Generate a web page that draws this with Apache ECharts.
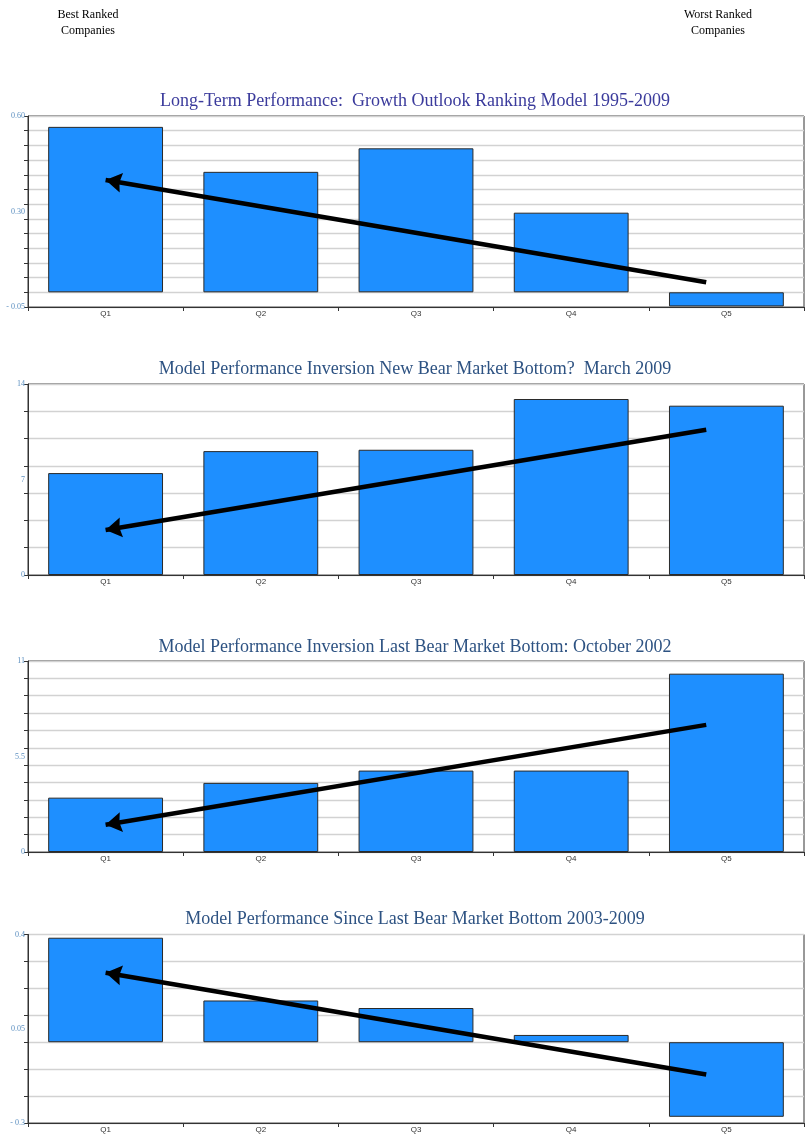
<!DOCTYPE html>
<html>
<head>
<meta charset="utf-8">
<script src="https://cdn.jsdelivr.net/npm/echarts@6/dist/echarts.min.js"></script>
<style>
html,body{margin:0;padding:0;background:#fff;}
#main{width:806px;height:1134px;}
</style>
</head>
<body>
<div id="main"></div>
<script>
// ---- data ----
const categories = ['Q1', 'Q2', 'Q3', 'Q4', 'Q5'];
const titles = [
  'Long-Term Performance:  Growth Outlook Ranking Model 1995-2009',
  'Model Performance Inversion New Bear Market Bottom?  March 2009',
  'Model Performance Inversion Last Bear Market Bottom: October 2002',
  'Model Performance Since Last Bear Market Bottom 2003-2009'
];
const values1 = [0.563, 0.41, 0.49, 0.271, -0.048];
const values2 = [7.47, 9.08, 9.18, 12.9, 12.41];
const values3 = [3.13, 3.98, 4.69, 4.69, 10.27];
const values4 = [0.388, 0.155, 0.127, 0.027, -0.277];
// trend arrows: [tail, head] as [category position (0-5), value]
const arrow1 = [[4.37, 0.034], [0.5, 0.382]];
const arrow2 = [[4.37, 10.65], [0.5, 3.3]];
const arrow3 = [[4.37, 7.32], [0.5, 1.57]];
const arrow4 = [[4.37, -0.12], [0.5, 0.258]];
// y axis ranges: min, max, gridline step
const range1 = [-0.05, 0.6, 0.05];
const range2 = [0, 14, 2];
const range3 = [0, 11, 1];
const range4 = [-0.3, 0.4, 0.1];
// y tick labels (bottom, middle, top)
const yLabels1 = ['- 0.05', '0.30', '0.60'];
const yLabels2 = ['0', '7', '14'];
const yLabels3 = ['0', '5.5', '11'];
const yLabels4 = ['- 0.3', '0.05', '0.4'];
const topLeftLabel = 'Best Ranked\nCompanies';
const topRightLabel = 'Worst Ranked\nCompanies';

// ---- layout ----
const panels = [
  {vals: values1, arrow: arrow1, range: range1, labels: yLabels1, top: 116, titleY: 87, titleColor: '#3b3b9c'},
  {vals: values2, arrow: arrow2, range: range2, labels: yLabels2, top: 384, titleY: 355, titleColor: '#2d5282'},
  {vals: values3, arrow: arrow3, range: range3, labels: yLabels3, top: 661, titleY: 633, titleColor: '#2d5282'},
  {vals: values4, arrow: arrow4, range: range4, labels: yLabels4, top: 934.5, titleY: 905, titleColor: '#2d5282'}
];
const H = 191;
// arrow head with its tip at the centre of the symbol box
const arrowHead = 'path://M0,-16 M0,0 L10,16 L0,14 L-10,16 Z';

const grid = [], xAxis = [], yAxis = [], series = [], title = [];
panels.forEach((p, i) => {
  grid.push({left: 28, right: 2, top: p.top, height: H, show: true, borderColor: '#333', borderWidth: 1, backgroundColor: 'transparent'});
  title.push({text: titles[i], left: 410, top: p.titleY, textAlign: 'center',
    textStyle: {fontFamily: 'Liberation Serif', fontWeight: 'normal', fontSize: 18, color: p.titleColor}});
  xAxis.push({
    type: 'category', gridIndex: i, data: categories, boundaryGap: true,
    axisLine: {onZero: false, lineStyle: {color: '#333', width: 1}},
    axisTick: {show: true, inside: false, length: 4, alignWithLabel: false, lineStyle: {color: '#333'}},
    axisLabel: {fontFamily: 'Liberation Sans', fontSize: 8, color: '#333', margin: 3},
    splitLine: {show: false}
  });
  xAxis.push({type: 'value', gridIndex: i, min: 0, max: 5, show: false});
  yAxis.push({
    type: 'value', gridIndex: i, min: p.range[0], max: p.range[1], interval: p.range[2],
    axisLine: {show: true, lineStyle: {color: '#333', width: 1}},
    axisTick: {show: true, inside: false, length: 4, lineStyle: {color: '#333'}},
    axisLabel: {show: false},
    splitLine: {show: true, lineStyle: {color: '#d2d2d2', width: 1.3}}
  });
  yAxis.push({
    type: 'value', gridIndex: i, min: 0, max: 2, interval: 1, position: 'left',
    axisLine: {show: false}, axisTick: {show: false}, splitLine: {show: false},
    axisLabel: {fontFamily: 'Liberation Serif', fontSize: 8, color: '#5b8fc0', margin: 3,
      formatter: (v) => p.labels[Math.round(v)]}
  });
  series.push({
    type: 'bar', xAxisIndex: 2 * i, yAxisIndex: 2 * i, data: p.vals,
    barCategoryGap: '26%',
    itemStyle: {color: '#1e8fff', borderColor: '#2a2a2a', borderWidth: 1},
    animation: false, z: 2
  });
  series.push({
    type: 'lines', coordinateSystem: 'cartesian2d', xAxisIndex: 2 * i + 1, yAxisIndex: 2 * i,
    data: [{coords: p.arrow}],
    symbol: ['none', arrowHead], symbolSize: [0, [20, 32]],
    lineStyle: {color: '#000', width: 4.5, opacity: 1},
    itemStyle: {color: '#000'},
    animation: false, z: 10
  });
});

const chart = echarts.init(document.getElementById('main'), null, {renderer: 'canvas'});
chart.setOption({
  animation: false,
  backgroundColor: '#fff',
  title: title,
  grid: grid,
  xAxis: xAxis,
  yAxis: yAxis,
  series: series,
  graphic: [
    {type: 'text', x: 88, y: 7, style: {text: topLeftLabel, font: '12px "Liberation Serif"', fill: '#000', align: 'center', lineHeight: 16}},
    {type: 'text', x: 718, y: 7, style: {text: topRightLabel, font: '12px "Liberation Serif"', fill: '#000', align: 'center', lineHeight: 16}}
  ]
});
</script>
</body>
</html>
